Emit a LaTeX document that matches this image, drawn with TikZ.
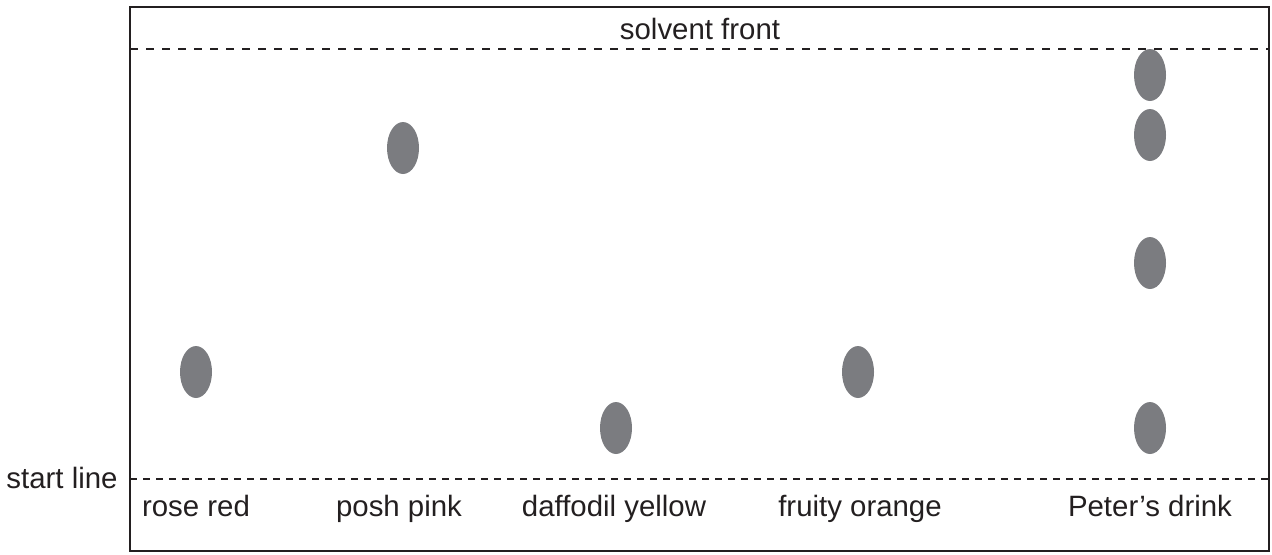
\documentclass[tikz,border=0pt]{standalone}
\usepackage{fontspec}
\setmainfont{Liberation Sans}
\usetikzlibrary{shapes.geometric}
\definecolor{spotgrey}{HTML}{7B7C80}
\definecolor{ink}{HTML}{231F20}
\begin{document}
\begin{tikzpicture}[x=0.5pt,y=-0.5pt,
  spot/.style={ellipse,fill=spotgrey,draw=none,minimum width=16pt,minimum height=26pt,inner sep=0pt},
  lbl/.style={inner sep=0pt,anchor=base,text=ink,font=\fontsize{14.7}{17.5}\selectfont},
  frontline/.style={draw=ink,line width=1.25pt,dash pattern=on 4pt off 4pt},
  baseline/.style={draw=ink,line width=0.65pt,dash pattern=on 3.5pt off 3pt},
  plate/.style={draw=ink,line width=0.8pt}]
\useasboundingbox (0,0) rectangle (1272,554);
% chromatography paper
\draw[plate] (130,7) rectangle (1269,551);
% solvent front and start line
\coordinate (sfL) at (130,49);
\coordinate (sfR) at (1269,49);
\coordinate (slL) at (130,479);
\coordinate (slR) at (1269,479);
\draw[frontline] (sfL) -- (sfR);
\draw[baseline] (slL) -- (slR);
\node[lbl] (sf) at (700,39) {solvent front};
\node[lbl,anchor=base east] (sl) at (118,488) {start line};
% sample labels
\node[lbl] (l1) at (196,516) {rose red};
\node[lbl] (l2) at (399,516) {posh pink};
\node[lbl] (l3) at (614,516) {daffodil yellow};
\node[lbl] (l4) at (860,516) {fruity orange};
\node[lbl] (l5) at (1150,516) {Peter’s drink};
% spots
\node[spot] (s1) at (196,372) {};
\node[spot] (s2) at (403,148) {};
\node[spot] (s3) at (616,428) {};
\node[spot] (s4) at (858,372) {};
\node[spot] (p1) at (1150,75) {};
\node[spot] (p2) at (1150,135) {};
\node[spot] (p3) at (1150,263) {};
\node[spot] (p4) at (1150,428) {};
\end{tikzpicture}
\end{document}
